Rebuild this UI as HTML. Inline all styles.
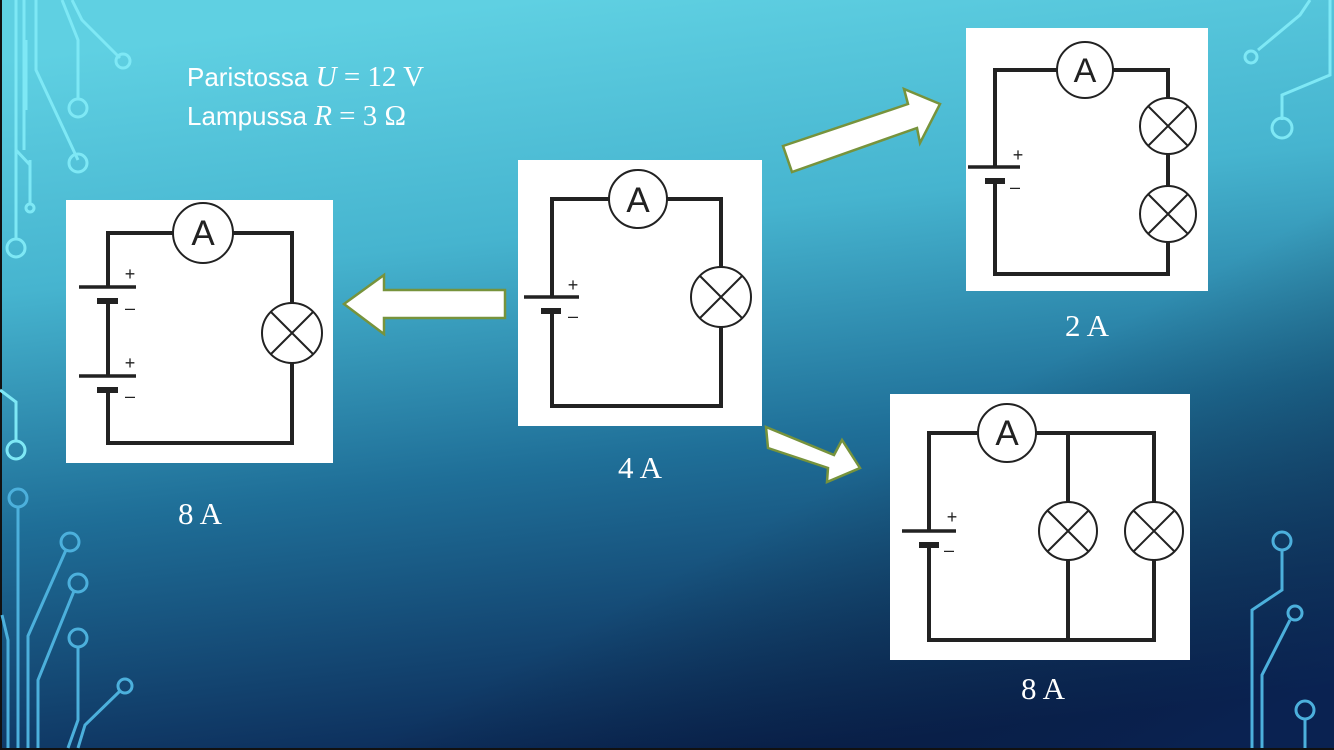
<!DOCTYPE html>
<html><head><meta charset="utf-8"><style>
html,body{margin:0;padding:0;width:1334px;height:750px;overflow:hidden;background:#0b2a55}
svg{display:block}
</style></head><body>
<svg width="1334" height="750" viewBox="0 0 1334 750" xmlns="http://www.w3.org/2000/svg">
<defs>
<linearGradient id="bg" x1="0.4" y1="0" x2="0.6" y2="1">
<stop offset="0" stop-color="#5fd0e2"/>
<stop offset="0.3" stop-color="#46b4cf"/>
<stop offset="0.6" stop-color="#1f6f98"/>
<stop offset="1" stop-color="#0a2452"/>
</linearGradient>
<linearGradient id="bg2" x1="0.3" y1="0.2" x2="1" y2="0.9">
<stop offset="0" stop-color="#000" stop-opacity="0"/>
<stop offset="0.55" stop-color="#000" stop-opacity="0"/>
<stop offset="1" stop-color="#0a2050" stop-opacity="0.5"/>
</linearGradient>
</defs>
<rect width="1334" height="750" fill="url(#bg)"/>
<rect width="1334" height="750" fill="url(#bg2)"/>
<rect x="0" y="0" width="2" height="750" fill="#111"/>
<rect x="0" y="748" width="1334" height="2" fill="#111"/>

<g fill="none" stroke="#7ee8f5" stroke-width="3">
<path d="M16 0V240M24 0V150M36 0V70L78 160M62 0L78 40V100M72 0L82 20L120 58"/>
<circle cx="123" cy="61" r="7"/><circle cx="78" cy="108" r="9"/><circle cx="78" cy="163" r="9"/>
<path d="M26 110V40"/><circle cx="30" cy="208" r="4"/><path d="M30 160L30 204M16 150L30 165"/>
<circle cx="16" cy="248" r="9"/>
<path d="M0 390L16 402V440"/><circle cx="16" cy="450" r="9"/>
<path d="M1310 0L1300 15L1258 50M1330 0V75L1282 95V120"/>
<circle cx="1251" cy="57" r="6"/><circle cx="1282" cy="128" r="10"/>
</g>
<g fill="none" stroke="#4cb0dc" stroke-width="3">
<circle cx="18" cy="498" r="9"/><path d="M18 507V748"/>
<circle cx="70" cy="542" r="9"/><path d="M66 550L28 636V748"/>
<circle cx="78" cy="583" r="9"/><path d="M74 591L38 680V748"/>
<circle cx="78" cy="638" r="9"/><path d="M78 647V720L68 748"/>
<circle cx="125" cy="686" r="7"/><path d="M120 691L85 725L78 748"/>
<path d="M2 615L8 640V748"/>
<circle cx="1282" cy="541" r="9"/><path d="M1282 550V590L1252 610V748"/>
<circle cx="1295" cy="613" r="7"/><path d="M1290 620L1262 675V748"/>
<circle cx="1305" cy="710" r="9"/><path d="M1305 719V748"/>
</g>

<text x="187" y="86" font-family="Liberation Sans, sans-serif" font-size="26" fill="#fff">Paristossa <tspan font-family="Liberation Serif, serif" font-style="italic" font-size="29">U</tspan><tspan font-family="Liberation Serif, serif" font-size="29"> = 12 V</tspan></text>
<text x="187" y="125" font-family="Liberation Sans, sans-serif" font-size="26" fill="#fff">Lampussa <tspan font-family="Liberation Serif, serif" font-style="italic" font-size="29">R</tspan><tspan font-family="Liberation Serif, serif" font-size="29"> = 3 Ω</tspan></text>

<g fill="#fff" stroke="#77933c" stroke-width="2.5" stroke-linejoin="miter">
<polygon points="505,290 384,290 384,275 344,304 384,334 384,318 505,318"/>
<polygon points="783,146 908,104 904,89 940,104 920,143 917,128 792,172"/>
<polygon points="766,427 834,455 842,440 860,468 827,482 828,468 768,448"/>
</g>

<g stroke="#222" fill="none">
<rect x="518" y="160" width="244" height="266" fill="#fff" stroke="none"/>
<path d="M552 297V199H721V406H552V311" stroke-width="4"/>
<line x1="524" y1="297" x2="579" y2="297" stroke-width="3.5"/>
<line x1="541" y1="311" x2="561" y2="311" stroke-width="6"/>
<circle cx="638" cy="199" r="29" fill="#fff" stroke-width="2"/>
<circle cx="721" cy="297" r="30" fill="#fff" stroke-width="2"/>
<path d="M700 276L742 318M742 276L700 318" stroke-width="2"/>
<rect x="66" y="200" width="267" height="263" fill="#fff" stroke="none"/>
<path d="M108 287V233H292V443H108V390M108 301V376" stroke-width="4"/>
<line x1="79" y1="287" x2="136" y2="287" stroke-width="3.5"/>
<line x1="97" y1="301" x2="118" y2="301" stroke-width="6"/>
<line x1="79" y1="376" x2="136" y2="376" stroke-width="3.5"/>
<line x1="97" y1="390" x2="118" y2="390" stroke-width="6"/>
<circle cx="203" cy="233" r="30" fill="#fff" stroke-width="2"/>
<circle cx="292" cy="333" r="30" fill="#fff" stroke-width="2"/>
<path d="M271 312L313 354M313 312L271 354" stroke-width="2"/>
<rect x="966" y="28" width="242" height="263" fill="#fff" stroke="none"/>
<path d="M995 167V70H1168V274H995V181" stroke-width="4"/>
<line x1="968" y1="167" x2="1020" y2="167" stroke-width="3.5"/>
<line x1="985" y1="181" x2="1005" y2="181" stroke-width="6"/>
<circle cx="1085" cy="70" r="28" fill="#fff" stroke-width="2"/>
<circle cx="1168" cy="126" r="28" fill="#fff" stroke-width="2"/>
<path d="M1148 106L1188 146M1188 106L1148 146" stroke-width="2"/>
<circle cx="1168" cy="214" r="28" fill="#fff" stroke-width="2"/>
<path d="M1148 194L1188 234M1188 194L1148 234" stroke-width="2"/>
<rect x="890" y="394" width="300" height="266" fill="#fff" stroke="none"/>
<path d="M929 531V433H1154V640H929V545M1068 433V640" stroke-width="4"/>
<line x1="902" y1="531" x2="956" y2="531" stroke-width="3.5"/>
<line x1="919" y1="545" x2="939" y2="545" stroke-width="6"/>
<circle cx="1007" cy="433" r="29" fill="#fff" stroke-width="2"/>
<circle cx="1068" cy="531" r="29" fill="#fff" stroke-width="2"/>
<path d="M1047 510L1089 552M1089 510L1047 552" stroke-width="2"/>
<circle cx="1154" cy="531" r="29" fill="#fff" stroke-width="2"/>
<path d="M1133 510L1175 552M1175 510L1133 552" stroke-width="2"/>
</g>
<g font-family="Liberation Sans, sans-serif" fill="#222" text-anchor="middle">
<text x="638" y="212" font-size="35">A</text>
<text x="203" y="245" font-size="35">A</text>
<text x="1085" y="82" font-size="34">A</text>
<text x="1007" y="445" font-size="35">A</text>
<g font-size="18">
<text x="573" y="291">+</text><text x="573" y="322">–</text>
<text x="130" y="280">+</text><text x="130" y="314">–</text>
<text x="130" y="369">+</text><text x="130" y="402">–</text>
<text x="1018" y="161">+</text><text x="1015" y="193">–</text>
<text x="952" y="523">+</text><text x="949" y="556">–</text>
</g>
</g>

<g font-family="Liberation Serif, serif" font-size="31" fill="#fff" text-anchor="middle">
<text x="200" y="524">8 A</text>
<text x="640" y="478">4 A</text>
<text x="1087" y="336">2 A</text>
<text x="1043" y="699">8 A</text>
</g>
</svg>
</body></html>
